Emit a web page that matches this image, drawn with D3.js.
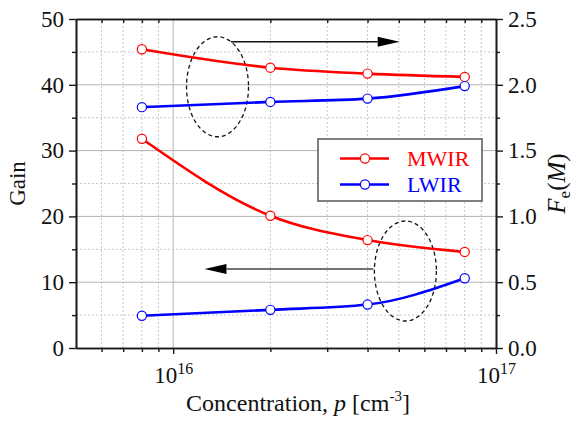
<!DOCTYPE html>
<html lang="en">
<head>
<meta charset="UTF-8">
<title>Gain and excess noise factor vs concentration</title>
<script src="https://d3js.org/d3.v7.min.js"></script>
<style>
    body { margin: 0; background: #fff; }
    .grid-major { stroke: #b4b4b4; stroke-width: 1; }
    .grid-minor { stroke: #c8c8c8; stroke-width: 1; stroke-dasharray: 2, 2; }
</style>
</head>
<body>
<div id="chart"></div>
<script>
    // data
    const concentration = [8e15, 2e16, 4e16, 8e16];
    const gainMWIR = [31.8, 20.1, 16.4, 14.6];
    const gainLWIR = [4.9, 5.8, 6.6, 10.6];
    const feMWIR = [2.27, 2.13, 2.085, 2.06];
    const feLWIR = [1.83, 1.87, 1.895, 1.99];

    const gainTicks = [0, 10, 20, 30, 40, 50];
    const gainMinor = [5, 15, 25, 35, 45];
    const feTicks = [0, 0.5, 1.0, 1.5, 2.0, 2.5];
    const feMinor = [0.25, 0.75, 1.25, 1.75, 2.25];
    const xMajor = [1e16, 1e17];
    const xMinor = [6e15, 7e15, 8e15, 9e15, 2e16, 3e16, 4e16, 5e16, 6e16, 7e16, 8e16, 9e16];

    const serif = "'Liberation Serif', 'Times New Roman', serif";
    const width = 574, height = 423;
    const margin = { top: 19, right: 78, bottom: 75, left: 76 };
    const x0 = margin.left, x1 = width - margin.right;
    const y0 = height - margin.bottom, y1 = margin.top;

    const svg = d3.select("#chart").append("svg")
        .attr("width", width)
        .attr("height", height)
        .style("font-family", serif);

    const x = d3.scaleLog().domain([5e15, 1e17]).range([x0, x1]);
    const yGain = d3.scaleLinear().domain([0, 50]).range([y0, y1]);
    const yFe = d3.scaleLinear().domain([0, 2.5]).range([y0, y1]);

    // grid
    const grid = svg.append("g");
    grid.selectAll(".gx-minor").data(xMinor).enter().append("line")
        .attr("class", "grid-minor")
        .attr("x1", d => x(d)).attr("x2", d => x(d))
        .attr("y1", y0).attr("y2", y1);
    grid.selectAll(".gx-major").data([1e16]).enter().append("line")
        .attr("class", "grid-major")
        .attr("x1", d => x(d)).attr("x2", d => x(d))
        .attr("y1", y0).attr("y2", y1);
    grid.selectAll(".gy-minor").data(gainMinor).enter().append("line")
        .attr("class", "grid-minor")
        .attr("x1", x0).attr("x2", x1)
        .attr("y1", d => yGain(d)).attr("y2", d => yGain(d));
    grid.selectAll(".gy-major").data([10, 20, 30, 40]).enter().append("line")
        .attr("class", "grid-major")
        .attr("x1", x0).attr("x2", x1)
        .attr("y1", d => yGain(d)).attr("y2", d => yGain(d));

    // axes
    const axisColor = "#1a1a1a";
    function styleAxis(g) {
        g.attr("font-family", serif).attr("font-size", 23);
        g.select(".domain").attr("stroke", axisColor).attr("stroke-width", 1.6);
        g.selectAll(".tick line").attr("stroke", axisColor).attr("stroke-width", 1.4);
        g.selectAll(".tick text").attr("fill", "#111")
            .style("font-family", serif).style("font-size", "23px");
    }

    // left
    svg.append("g").attr("transform", `translate(${x0},0)`)
        .call(d3.axisLeft(yGain).tickValues(gainMinor).tickSize(4).tickFormat("").tickSizeOuter(0))
        .call(styleAxis);
    svg.append("g").attr("transform", `translate(${x0},0)`)
        .call(d3.axisLeft(yGain).tickValues(gainTicks).tickSize(7).tickPadding(5).tickSizeOuter(0))
        .call(styleAxis);

    // right
    svg.append("g").attr("transform", `translate(${x1},0)`)
        .call(d3.axisRight(yFe).tickValues(feMinor).tickSize(4).tickFormat("").tickSizeOuter(0))
        .call(styleAxis);
    svg.append("g").attr("transform", `translate(${x1},0)`)
        .call(d3.axisRight(yFe).tickValues(feTicks).tickSize(7).tickPadding(5)
            .tickFormat(d3.format(".1f")).tickSizeOuter(0))
        .call(styleAxis);

    // bottom
    svg.append("g").attr("transform", `translate(0,${y0})`)
        .call(d3.axisBottom(x).tickValues(xMinor).tickSize(4).tickFormat("").tickSizeOuter(0))
        .call(styleAxis);
    const bottomAxis = svg.append("g").attr("transform", `translate(0,${y0})`)
        .call(d3.axisBottom(x).tickValues(xMajor).tickSize(6).tickFormat("").tickSizeOuter(0))
        .call(styleAxis);
    bottomAxis.selectAll(".tick").append("text")
        .attr("y", 35)
        .attr("fill", "#111")
        .attr("text-anchor", "middle")
        .style("font-family", serif).style("font-size", "23px")
        .each(function (d) {
            const t = d3.select(this);
            t.append("tspan").text("10");
            t.append("tspan").style("font-size", "16px").attr("dy", -9).text(Math.round(Math.log10(d)));
        });

    // top
    svg.append("g").attr("transform", `translate(0,${y1})`)
        .call(d3.axisBottom(x).tickValues(xMinor).tickSize(4).tickFormat("").tickSizeOuter(0))
        .call(styleAxis);
    svg.append("g").attr("transform", `translate(0,${y1})`)
        .call(d3.axisBottom(x).tickValues(xMajor).tickSize(0).tickFormat("").tickSizeOuter(0))
        .call(styleAxis);

    // axis titles
    function title(size) {
        return svg.append("text")
            .attr("text-anchor", "middle")
            .attr("fill", "#111")
            .style("font-family", serif).style("font-size", size + "px");
    }

    title(23)
        .attr("transform", `translate(${x0 - 51},${(y0 + y1) / 2}) rotate(-90)`)
        .text("Gain");

    const feTitle = title(25)
        .attr("transform", `translate(${x1 + 69},${(y0 + y1) / 2}) rotate(-90)`);
    feTitle.append("tspan").attr("font-style", "italic").text("F");
    feTitle.append("tspan").style("font-size", "17px").attr("dy", 5).text("e");
    feTitle.append("tspan").attr("dy", -5).text("(");
    feTitle.append("tspan").attr("font-style", "italic").text("M");
    feTitle.append("tspan").text(")");

    const xTitle = title(24)
        .attr("x", (x0 + x1) / 2 + 12)
        .attr("y", y0 + 63);
    xTitle.append("tspan").text("Concentration, ");
    xTitle.append("tspan").attr("font-style", "italic").text("p");
    xTitle.append("tspan").text(" [cm");
    xTitle.append("tspan").style("font-size", "15px").attr("dy", -10).text("-3");
    xTitle.append("tspan").attr("dy", 10).text("]");

    // annotations: ellipses and arrows (in data units)
    const ann = svg.append("g");
    const ellipses = [
        { cx: 1.372e16, cy: 39.7, rx: 31, ry: 50 },
        { cx: 5.24e16, cy: 11.7, rx: 31, ry: 50 }
    ];
    ann.selectAll("ellipse").data(ellipses).enter().append("ellipse")
        .attr("cx", d => x(d.cx)).attr("cy", d => yGain(d.cy))
        .attr("rx", d => d.rx).attr("ry", d => d.ry)
        .attr("fill", "none").attr("stroke", "#111")
        .attr("stroke-width", 1.3).attr("stroke-dasharray", "4,3");

    const arrows = [
        { from: 1.51e16, to: 5.03e16, y: 46.55, color: "#111" },
        { from: 4.17e16, to: 1.25e16, y: 12.0, color: "#444" }
    ];
    arrows.forEach(a => {
        const xa = x(a.from), xb = x(a.to), yy = yGain(a.y);
        const dir = xb > xa ? 1 : -1;
        const headLen = 22, headHalf = 5;
        ann.append("line")
            .attr("x1", xa).attr("x2", xb - dir * headLen)
            .attr("y1", yy).attr("y2", yy)
            .attr("stroke", a.color).attr("stroke-width", 1.6);
        ann.append("path")
            .attr("d", `M${xb},${yy}L${xb - dir * headLen},${yy - headHalf}L${xb - dir * headLen},${yy + headHalf}Z`)
            .attr("fill", "#000");
    });

    // series
    const series = [
        { color: "#ff0000", values: gainMWIR, y: yGain },
        { color: "#0000ff", values: gainLWIR, y: yGain },
        { color: "#ff0000", values: feMWIR, y: yFe },
        { color: "#0000ff", values: feLWIR, y: yFe }
    ];
    series.forEach(s => {
        const pts = concentration.map((c, i) => [c, s.values[i]]);
        const line = d3.line()
            .x(d => x(d[0]))
            .y(d => s.y(d[1]))
            .curve(d3.curveMonotoneX);
        svg.append("path")
            .attr("d", line(pts))
            .attr("fill", "none")
            .attr("stroke", s.color)
            .attr("stroke-width", 2.6);
        svg.selectAll(null).data(pts).enter().append("circle")
            .attr("cx", d => x(d[0]))
            .attr("cy", d => s.y(d[1]))
            .attr("r", 4.6)
            .attr("fill", "#fff")
            .attr("stroke", s.color)
            .attr("stroke-width", 1.2);
    });

    // legend
    const legend = svg.append("g").attr("transform", "translate(318,139)");
    legend.append("rect")
        .attr("width", 164).attr("height", 62)
        .attr("fill", "#fff").attr("stroke", "#555").attr("stroke-width", 1.5);
    const legendItems = [
        { name: "MWIR", color: "#ff0000" },
        { name: "LWIR", color: "#0000ff" }
    ];
    legendItems.forEach((item, i) => {
        const yy = 19.5 + i * 26;
        legend.append("line")
            .attr("x1", 22).attr("x2", 71)
            .attr("y1", yy).attr("y2", yy)
            .attr("stroke", item.color).attr("stroke-width", 2.6);
        legend.append("circle")
            .attr("cx", 47).attr("cy", yy).attr("r", 4.6)
            .attr("fill", "#fff").attr("stroke", item.color).attr("stroke-width", 1.2);
        legend.append("text")
            .attr("x", 89).attr("y", yy).attr("dy", "0.35em")
            .attr("fill", item.color)
            .style("font-family", serif).style("font-size", "22px")
            .text(item.name);
    });
</script>
</body>
</html>
